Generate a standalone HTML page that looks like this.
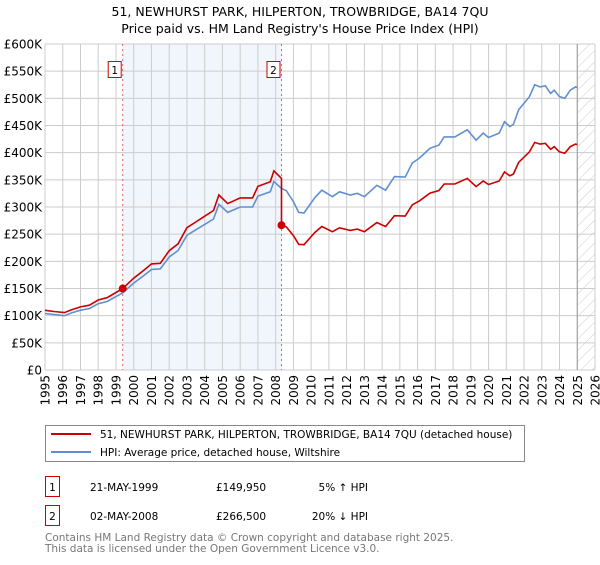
<!DOCTYPE html>
<html><head><meta charset="utf-8"><style>
body{margin:0;background:#fff;font-family:"Liberation Sans","DejaVu Sans",sans-serif;}
svg text{font-family:"DejaVu Sans","Liberation Sans",sans-serif;}
</style></head><body>
<svg id="c" width="600" height="560" xmlns="http://www.w3.org/2000/svg">
<defs><pattern id="hatch" width="8" height="8" patternUnits="userSpaceOnUse" patternTransform="rotate(45)"><line x1="0" y1="0" x2="0" y2="8" stroke="#ccc" stroke-width="1"/></pattern></defs>
<text x="300" y="16" text-anchor="middle" font-size="12.5" fill="#000">51, NEWHURST PARK, HILPERTON, TROWBRIDGE, BA14 7QU</text>
<text x="300" y="33" text-anchor="middle" font-size="12.5" fill="#000">Price paid vs. HM Land Registry's House Price Index (HPI)</text>
<g id="plot"></g>
<g>
<rect x="45.5" y="425.5" width="479" height="36" fill="#fff" stroke="#888"/>
<line x1="51" y1="434" x2="91" y2="434" stroke="#cc0000" stroke-width="2"/>
<text x="100" y="438" font-size="10.5">51, NEWHURST PARK, HILPERTON, TROWBRIDGE, BA14 7QU (detached house)</text>
<line x1="51" y1="452" x2="91" y2="452" stroke="#6090d0" stroke-width="2"/>
<text x="100" y="456" font-size="10.5">HPI: Average price, detached house, Wiltshire</text>
</g>
<g font-size="10.5">
<rect x="45.5" y="476.5" width="14" height="20" fill="#fff" stroke="#cc0000"/>
<text x="52.5" y="491" text-anchor="middle">1</text>
<text x="90" y="491">21-MAY-1999</text><text x="216" y="491">£149,950</text><text x="368" y="491" text-anchor="end">5% ↑ HPI</text>
<rect x="45.5" y="505.5" width="14" height="20" fill="#fff" stroke="#cc0000"/>
<text x="52.5" y="520" text-anchor="middle">2</text>
<text x="90" y="520">02-MAY-2008</text><text x="216" y="520">£266,500</text><text x="368" y="520" text-anchor="end">20% ↓ HPI</text>
</g>
<text x="45" y="541" font-size="10.5" fill="#777">Contains HM Land Registry data © Crown copyright and database right 2025.</text>
<text x="45" y="552" font-size="10.5" fill="#777">This data is licensed under the Open Government Licence v3.0.</text>
</svg>
<script>
const hpiYears=[1995,1995.5,1996.1,1996.5,1997,1997.5,1998,1998.5,1999,1999.38,2000,2000.5,2001,2001.5,2002,2002.5,2003,2003.5,2004,2004.5,2004.8,2005.3,2006,2006.7,2007,2007.7,2007.9,2008.33,2008.6,2009,2009.3,2009.6,2010.2,2010.6,2011.2,2011.6,2012.2,2012.6,2013.0,2013.7,2014.2,2014.7,2015.3,2015.7,2016.1,2016.7,2017.2,2017.5,2018.1,2018.8,2019.3,2019.7,2020.0,2020.6,2020.9,2021.2,2021.4,2021.7,2022.3,2022.6,2022.9,2023.2,2023.5,2023.7,2024.0,2024.3,2024.6,2024.9,2025.0];
const hpiValues=[104,102,100,105,110,113,122,126,135,142,160,172,185,186,208,220,248,258,268,278,305,290,300,300,320,328,347,334,330,310,290,289,317,331,319,328,322,325,319,340,331,356,355,381,390,408,414,429,429,442,423,436,428,436,457,448,452,479,503,525,521,523,509,515,503,500,515,521,520];
const saleYears=[1999.38,2008.33];
const salePrices=[149.95,266.5];
const saleLabels=["1","2"];
const yTicks=[0,50,100,150,200,250,300,350,400,450,500,550,600];
const xTicks=[1995,1996,1997,1998,1999,2000,2001,2002,2003,2004,2005,2006,2007,2008,2009,2010,2011,2012,2013,2014,2015,2016,2017,2018,2019,2020,2021,2022,2023,2024,2025,2026];
const NS="http://www.w3.org/2000/svg";
const X0=45,X1=595,Y0=370,Y1=44;
const xs=t=>X0+(t-1995)/(2026-1995)*(X1-X0);
const ys=v=>Y0-v/600*(Y0-Y1);
const g=document.getElementById('plot');
function mk(tag,attrs,parent){const e=document.createElementNS(NS,tag);for(const k in attrs)e.setAttribute(k,attrs[k]);(parent||g).appendChild(e);return e;}
function hpiAt(t){for(let i=1;i<hpiYears.length;i++){if(t<=hpiYears[i]){const f=(t-hpiYears[i-1])/(hpiYears[i]-hpiYears[i-1]);return hpiValues[i-1]+f*(hpiValues[i]-hpiValues[i-1]);}}return hpiValues[hpiValues.length-1];}
let el=mk('rect',{x:X0,y:Y1,width:X1-X0,height:Y0-Y1,fill:'#fff'});


el=mk('rect',{x:xs(saleYears[0]),y:Y1,width:xs(saleYears[1])-xs(saleYears[0]),height:Y0-Y1,fill:'#eef2fb',opacity:0.8});


el=mk('rect',{x:xs(2025),y:Y1,width:X1-xs(2025),height:Y0-Y1,fill:'url(#hatch)'});


yTicks.forEach(v=>{
  let l=mk('line',{x1:X0,x2:X1,y1:ys(v),y2:ys(v),stroke:'#ccc','stroke-width':1});
  
  
  let t=mk('text',{x:X0-3,y:ys(v)+4.5,'text-anchor':'end','font-size':'12'});
  
  
  t.textContent=v===0?'£0':'£'+v+'K';
});
xTicks.forEach(yr=>{
  let l=mk('line',{x1:xs(yr),x2:xs(yr),y1:Y1,y2:Y0,stroke:'#ccc','stroke-width':1});
  
  
  let t=mk('text',{x:0,y:0,'text-anchor':'end','font-size':'12',transform:`translate(${xs(yr)+4.5},${Y0+5}) rotate(-90)`});
  
  
  t.textContent=yr;
});
el=mk('line',{x1:xs(2025),x2:xs(2025),y1:Y1,y2:Y0,stroke:'#999','stroke-width':1});


saleYears.forEach((s,i)=>{
  let l=mk('line',{x1:xs(s),x2:xs(s),y1:Y1,y2:Y0,stroke:'#e06060','stroke-width':1,'stroke-dasharray':'2,3'});
  
  
  let r=mk('rect',{x:xs(s)-14.5,y:61.5,width:13,height:16,fill:'#fff',stroke:'#cc0000'});
  
  
  let t=mk('text',{x:xs(s)-8,y:74,'text-anchor':'middle','font-size':'10.5'});
  
  
  t.textContent=saleLabels[i];
});
const hp=hpiYears.map((t,i)=>xs(t).toFixed(1)+','+ys(hpiValues[i]).toFixed(1)).join(' ');
el=mk('polyline',{points:hp,fill:'none',stroke:'#6090d0','stroke-width':1.6});


const f1=salePrices[0]/hpiAt(saleYears[0]),f2=salePrices[1]/hpiAt(saleYears[1]);
let rp=[];
hpiYears.forEach((t,i)=>{
  if(t<saleYears[1])rp.push([t,hpiValues[i]*f1]);
});
rp.push([saleYears[1],hpiAt(saleYears[1])*f1]);
rp.push([saleYears[1],salePrices[1]]);
hpiYears.forEach((t,i)=>{if(t>saleYears[1])rp.push([t,hpiValues[i]*f2]);});
el=mk('polyline',{points:rp.map(p=>xs(p[0]).toFixed(1)+','+ys(p[1]).toFixed(1)).join(' '),fill:'none',stroke:'#cc0000','stroke-width':1.6});


saleYears.forEach((s,i)=>{
  let c=mk('circle',{cx:xs(s),cy:ys(salePrices[i]),r:4,fill:'#cc0000'});
  
  
});
</script>
</body></html>
